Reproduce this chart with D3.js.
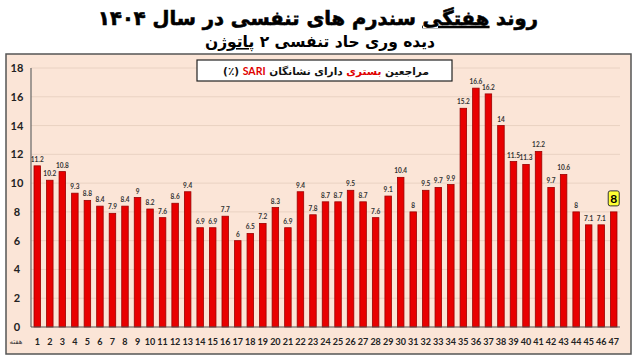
<!DOCTYPE html>
<html>
<head>
<meta charset="utf-8">
<script src="https://cdn.jsdelivr.net/npm/d3@7"></script>
<style>
  body { margin: 0; background: #fff; }
  svg { display: block; }
</style>
</head>
<body>
<div id="chart"></div>
<script>
// weekly SARI hospitalised cases (%)
const weeks = d3.range(1, 48);
const values = [11.2, 10.2, 10.8, 9.3, 8.8, 8.4, 7.9, 8.4, 9, 8.2, 7.6, 8.6, 9.4, 6.9, 6.9, 7.7,
  6, 6.5, 7.2, 8.3, 6.9, 9.4, 7.8, 8.7, 8.7, 9.5, 8.7, 7.6, 9.1, 10.4, 8, 9.5, 9.7, 9.9,
  15.2, 16.6, 16.2, 14, 11.5, 11.3, 12.2, 9.7, 10.6, 8, 7.1, 7.1, 8];
const yTicks = [0, 2, 4, 6, 8, 10, 12, 14, 16, 18];

function init() {
    const width = 640;
    const height = 363;

    const svg = d3.select("#chart")
        .append("svg")
        .attr("width", width)
        .attr("height", height);

    const faFont = "'DejaVu Sans', sans-serif";
    const numFont = "Lato, 'Open Sans', sans-serif";

    // titles
    const t1 = svg.append("text")
        .attr("x", 318).attr("y", 25)
        .attr("text-anchor", "middle")
        .attr("direction", "rtl")
        .style("font-family", faFont)
        .style("font-weight", "bold")
        .style("font-size", "19.5px")
        .attr("fill", "#000")
        .attr("stroke", "#000")
        .attr("stroke-width", 0.6);
    t1.append("tspan").text("روند ");
    t1.append("tspan").text("هفتگی").style("text-decoration", "underline");
    t1.append("tspan").text(" سندرم های تنفسی در سال ۱۴۰۴");

    const t2 = svg.append("text")
        .attr("x", 320).attr("y", 47)
        .attr("text-anchor", "middle")
        .attr("direction", "rtl")
        .style("font-family", faFont)
        .style("font-weight", "bold")
        .style("font-size", "15.5px")
        .attr("fill", "#000");
    t2.append("tspan").text("دیده وری حاد تنفسی ۲ ");
    t2.append("tspan").text("پاتوژن").style("text-decoration", "underline");

    // chart frame
    svg.append("rect")
        .attr("x", 6).attr("y", 54)
        .attr("width", 625).attr("height", 300)
        .attr("fill", "#fbe5d7")
        .attr("stroke", "#555")
        .attr("stroke-width", 1.5);

    const x = d3.scaleBand()
        .domain(weeks)
        .range([31, 620])
        .paddingInner(0.48)
        .paddingOuter(0.24);

    const y = d3.scaleLinear()
        .domain([0, 18])
        .range([327, 68]);

    // grid lines
    svg.append("g")
        .selectAll("line")
        .data(yTicks.filter(d => d > 0))
        .enter().append("line")
        .attr("x1", 31).attr("x2", 620)
        .attr("y1", d => y(d)).attr("y2", d => y(d))
        .attr("stroke", "#e9d2c3")
        .attr("stroke-width", 1);

    // y axis labels
    svg.append("g")
        .selectAll("text")
        .data(yTicks)
        .enter().append("text")
        .attr("x", 17)
        .attr("y", d => y(d) + 4)
        .attr("text-anchor", "middle")
        .style("font-family", numFont)
        .style("font-weight", "bold")
        .style("font-size", "11px")
        .attr("fill", "#222")
        .text(d => d);

    // bars
    svg.append("g")
        .selectAll("rect")
        .data(values)
        .enter().append("rect")
        .attr("x", (d, i) => x(weeks[i]))
        .attr("y", d => y(d))
        .attr("width", x.bandwidth())
        .attr("height", d => y(0) - y(d))
        .attr("fill", "#e80000")
        .attr("stroke", "#9b0000")
        .attr("stroke-width", 0.8);

    // value labels
    svg.append("g")
        .selectAll("text")
        .data(values.slice(0, -1))
        .enter().append("text")
        .attr("x", (d, i) => x(weeks[i]) + x.bandwidth() / 2)
        .attr("y", d => y(d) - 4)
        .attr("text-anchor", "middle")
        .style("font-family", numFont)
        .style("font-weight", "bold")
        .style("font-size", "6.5px")
        .attr("fill", "#333")
        .text(d => d);

    // highlighted last value
    const last = values.length - 1;
    const lx = x(weeks[last]) + x.bandwidth() / 2;
    const ly = y(values[last]);
    svg.append("rect")
        .attr("x", lx - 5.5).attr("y", ly - 21)
        .attr("width", 11).attr("height", 15)
        .attr("rx", 2)
        .attr("fill", "#ffff33")
        .attr("stroke", "#333")
        .attr("stroke-width", 1);
    svg.append("text")
        .attr("x", lx).attr("y", ly - 9)
        .attr("text-anchor", "middle")
        .style("font-family", numFont)
        .style("font-weight", "bold")
        .style("font-size", "12px")
        .attr("fill", "#000")
        .text(values[last]);

    // axis lines
    svg.append("line")
        .attr("x1", 31).attr("x2", 31)
        .attr("y1", y(18)).attr("y2", y(0))
        .attr("stroke", "#666").attr("stroke-width", 1.2);
    svg.append("line")
        .attr("x1", 31).attr("x2", 620)
        .attr("y1", y(0)).attr("y2", y(0))
        .attr("stroke", "#555").attr("stroke-width", 1.2);

    // x labels
    svg.append("g")
        .selectAll("text")
        .data(weeks)
        .enter().append("text")
        .attr("x", d => x(d) + x.bandwidth() / 2)
        .attr("y", 345)
        .attr("text-anchor", "middle")
        .style("font-family", numFont)
        .style("font-weight", "bold")
        .style("font-size", "9px")
        .attr("fill", "#222")
        .text(d => d);

    svg.append("text")
        .attr("x", 16).attr("y", 344)
        .attr("text-anchor", "middle")
        .attr("direction", "rtl")
        .style("font-family", faFont)
        .style("font-size", "7px")
        .attr("fill", "#333")
        .text("هفته");

    // legend box
    svg.append("rect")
        .attr("x", 197).attr("y", 60)
        .attr("width", 255).attr("height", 21)
        .attr("fill", "#fff")
        .attr("stroke", "#222")
        .attr("stroke-width", 1.2);
    const lg = svg.append("text")
        .attr("x", 326).attr("y", 75)
        .attr("text-anchor", "middle")
        .attr("direction", "rtl")
        .style("font-family", faFont)
        .style("font-weight", "bold")
        .style("font-size", "10.5px")
        .attr("fill", "#111");
    lg.append("tspan").text("مراجعین ");
    lg.append("tspan").text("بستری").attr("fill", "#e00000");
    lg.append("tspan").text(" دارای نشانگان ");
    lg.append("tspan").text("SARI").attr("fill", "#e00000").style("font-family", numFont);
    lg.append("tspan").text(" (٪)");
}
window.onload = init;
</script>
</body>
</html>
